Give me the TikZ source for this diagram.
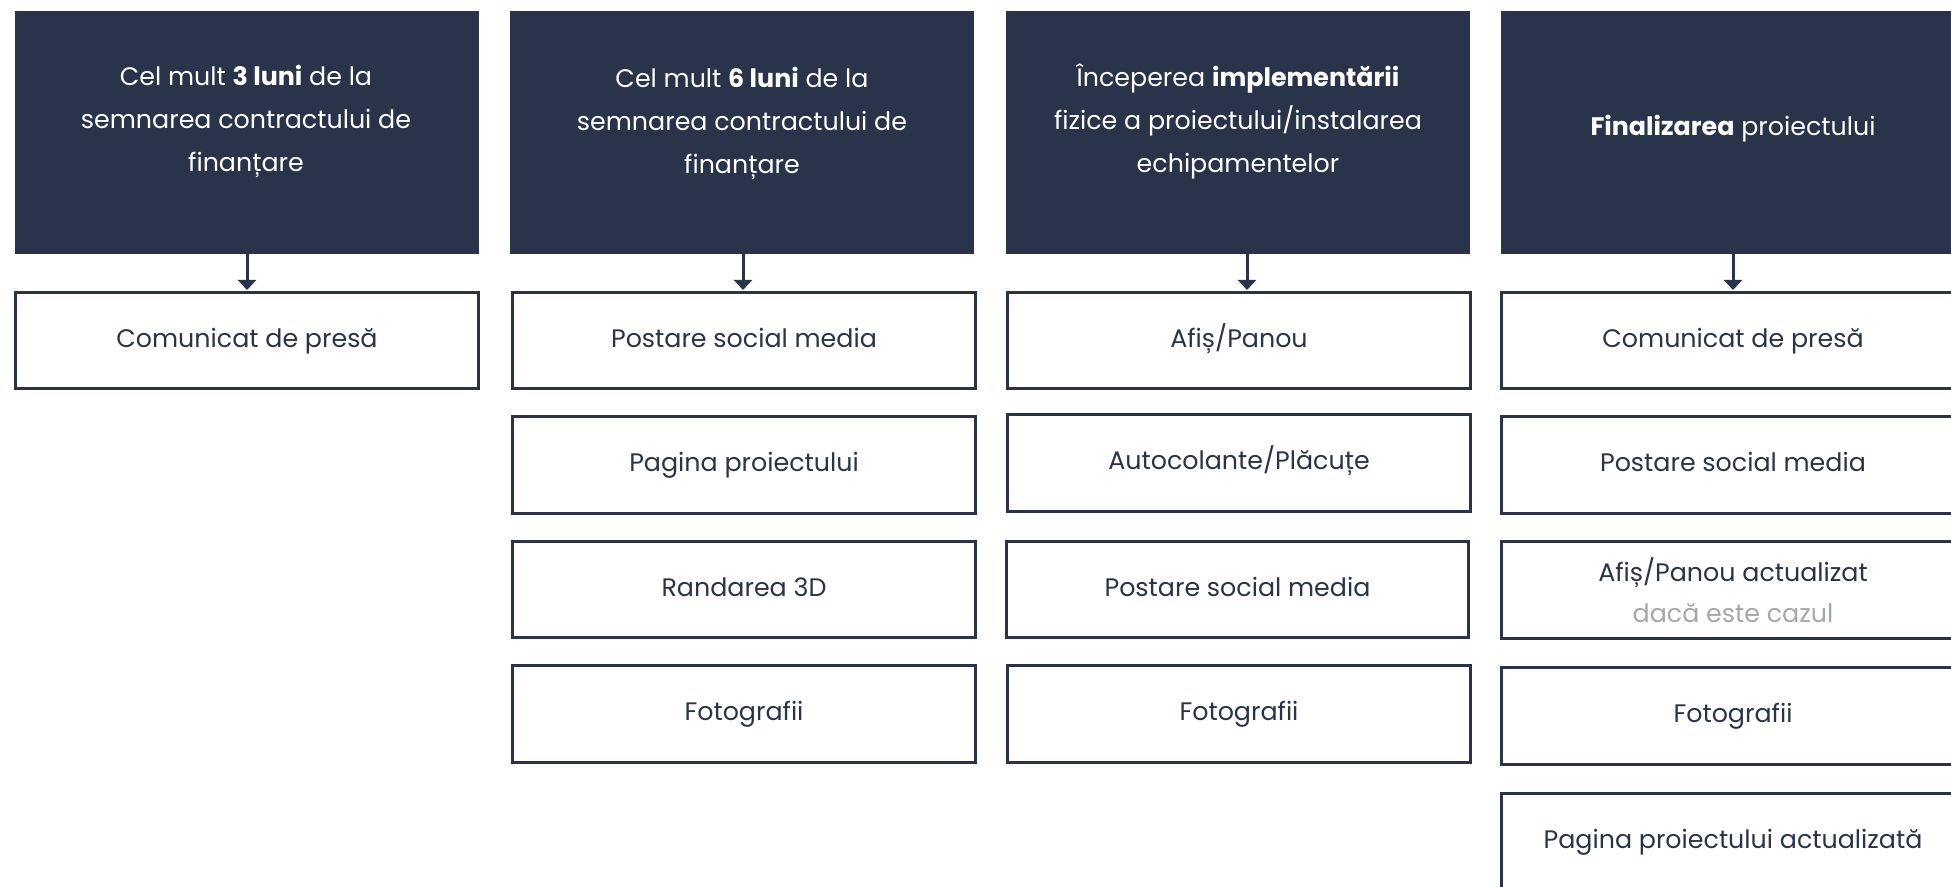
\documentclass[tikz,border=0pt]{standalone}
\usepackage{fontspec}
\setmainfont{Poppins}
\usetikzlibrary{arrows.meta,calc}
\definecolor{navy}{HTML}{29344B}
\definecolor{grayt}{HTML}{A3A7B1}
\begin{document}
\begin{tikzpicture}[x=0.75pt,y=-0.75pt,
  darkbox/.style={rectangle,fill=navy,draw=none,minimum width=348pt,minimum height=182.25pt,inner sep=0pt},
  titletext/.style={text=white,align=center,font=\fontsize{19}{32.25}\selectfont,inner sep=0pt},
  itembox/.style={rectangle,draw=navy,line width=2.25pt,fill=white,minimum width=347pt,minimum height=72.5pt,inner sep=0pt,align=center,text=navy,font=\fontsize{19}{30.75}\selectfont},
  oneline/.style={itembox,text height=14.8pt,text depth=5pt},
  arr/.style={draw=navy,line width=2.25pt,-{Triangle[width=13.5pt,length=7.5pt]},shorten >=0.5pt}]
\useasboundingbox (0,0) rectangle (1951,887);
\clip (0,0) rectangle (1951,887);
% dark header boxes
\node[darkbox] (d1) at (247,132.5) {};
\node[darkbox] (d2) at (742,132.5) {};
\node[darkbox] (d3) at (1238,132.5) {};
\node[darkbox] (d4) at (1733,132.5) {};
\node[titletext] (t1) at (246,121.5) {Cel mult \textbf{3 luni} de la\\semnarea contractului de\\finanțare};
\node[titletext] (t2) at (742,123.5) {Cel mult \textbf{6 luni} de la\\semnarea contractului de\\finanțare};
\node[titletext] (t3) at (1238,121.5) {Începerea \textbf{implementării}\\fizice a proiectului/instalarea\\echipamentelor};
\node[titletext] (t4) at (1733,128.5) {\textbf{Finalizarea} proiectului};
% column 1
\node[oneline] (w11) at (247,340.5) {Comunicat de presă};
% column 2
\node[oneline] (w21) at (744,340.5) {Postare social media};
\node[oneline] (w22) at (744,465) {Pagina proiectului};
\node[oneline] (w23) at (744,589.5) {Randarea 3D};
\node[oneline] (w24) at (744,714) {Fotografii};
% column 3
\node[oneline] (w31) at (1239,340.5) {Afiș/Panou};
\node[oneline] (w32) at (1239,463) {Autocolante/Plăcuțe};
\node[oneline] (w33) at (1237.5,589.5) {Postare social media};
\node[oneline] (w34) at (1239,714) {Fotografii};
% column 4
\node[oneline] (w41) at (1733,340.5) {Comunicat de presă};
\node[oneline] (w42) at (1733,465) {Postare social media};
\node[itembox] (w43) at (1733,590) {Afiș/Panou actualizat\\\textcolor{grayt}{dacă este cazul}};
\node[oneline] (w44) at (1733,716) {Fotografii};
\node[oneline] (w45) at (1733,842) {Pagina proiectului actualizată};
% arrows
\draw[arr] (d1.south) -- (d1.south |- w11.north);
\draw[arr] ([xshift=0.75pt]d2.south) -- ([xshift=0.75pt]d2.south |- w21.north);
\draw[arr] ([xshift=6.75pt]d3.south) -- ([xshift=6.75pt]d3.south |- w31.north);
\draw[arr] (d4.south) -- (d4.south |- w41.north);
\end{tikzpicture}
\end{document}
